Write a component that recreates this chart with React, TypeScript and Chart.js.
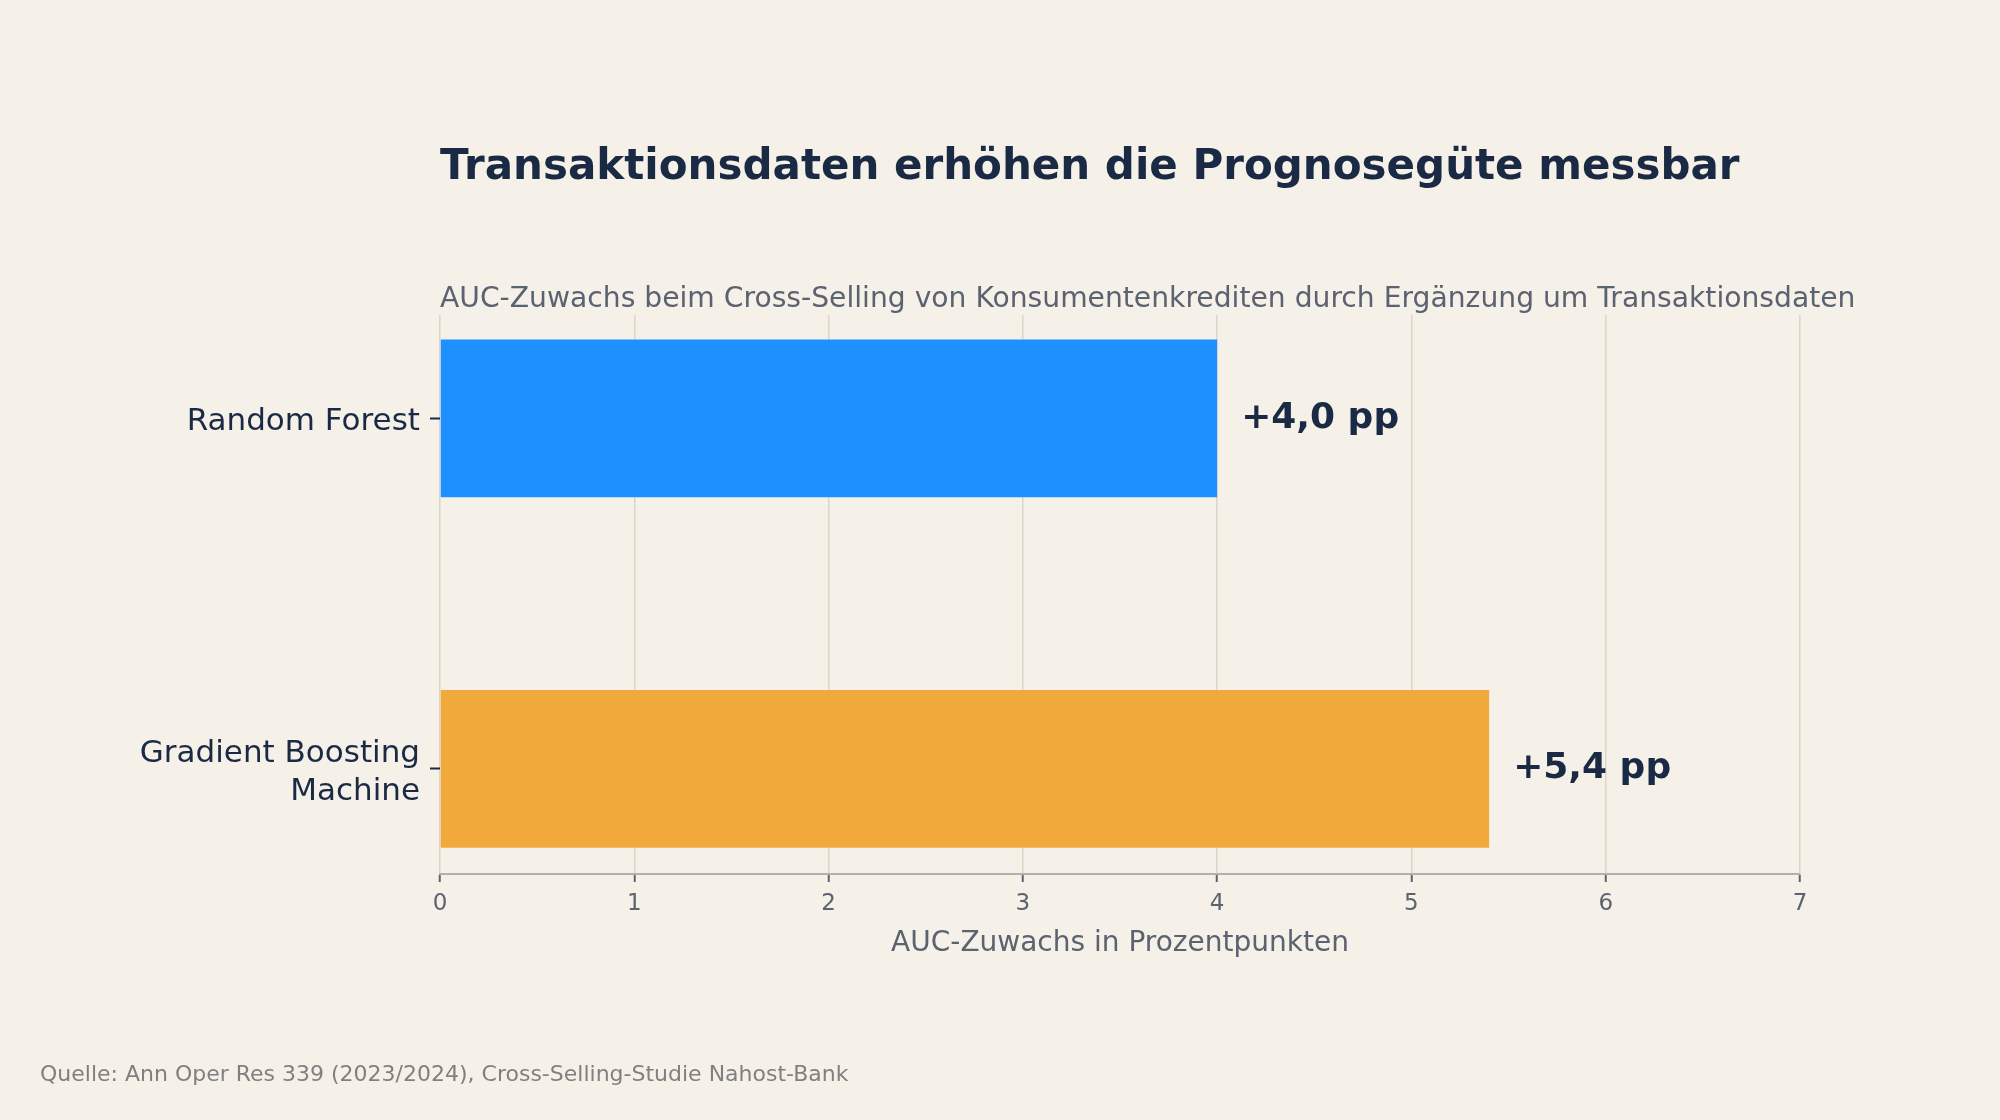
import { useEffect, useRef } from 'react';
import { Chart, registerables } from 'chart.js';

Chart.register(...registerables);

const models = ['Random Forest', ['Gradient Boosting', 'Machine']];
const modelIndex = [0, 1];
const aucGains = [4.0, 5.4];
const barColors = ['#1e90ff', '#f2a93b'];

const FONT = '"DejaVu Sans", "Noto Sans", sans-serif';
const NAVY = '#1b2a44';
const GREY = '#5b6270';

const SUBTITLE = 'AUC-Zuwachs beim Cross-Selling von Konsumentenkrediten durch Ergänzung um Transaktionsdaten';
const SOURCE = 'Quelle: Ann Oper Res 339 (2023/2024), Cross-Selling-Studie Nahost-Bank';

const fmt = (v: number) => '+' + v.toFixed(1).replace('.', ',') + ' pp';

const valueLabels = {
  id: 'valueLabels',
  afterDatasetsDraw(chart: any) {
    const { ctx } = chart;
    const meta = chart.getDatasetMeta(0);
    ctx.save();
    ctx.font = `bold 36px ${FONT}`;
    ctx.fillStyle = NAVY;
    ctx.textBaseline = 'middle';
    ctx.textAlign = 'left';
    meta.data.forEach((bar: any, i: number) => {
      ctx.fillText(fmt(aucGains[i]), bar.x + 24, bar.y);
    });
    ctx.restore();
  },
};

// subtitle is wider than the plot, so it is drawn here (no maxWidth squeeze)
const extraText = {
  id: 'extraText',
  afterDraw(chart: any) {
    const { ctx, chartArea } = chart;
    ctx.save();
    ctx.textBaseline = 'middle';
    ctx.textAlign = 'left';
    ctx.font = `28.2px ${FONT}`;
    ctx.fillStyle = GREY;
    ctx.fillText(SUBTITLE, chartArea.left, 300);
    ctx.font = `22px ${FONT}`;
    ctx.fillStyle = '#808080';
    ctx.fillText(SOURCE, 40, 1075);
    ctx.restore();
  },
};

export default function App() {
  const canvasRef = useRef<HTMLCanvasElement>(null);

  useEffect(() => {
    if (!canvasRef.current) return;

    const chart = new Chart(canvasRef.current, {
      type: 'bar',
      data: {
        datasets: [
          {
            data: modelIndex.map((y, i) => ({ x: aucGains[i], y })),
            backgroundColor: barColors,
            borderWidth: 0,
            barPercentage: 0.45,
            categoryPercentage: 1,
          },
        ],
      },
      options: {
        indexAxis: 'y',
        animation: false,
        responsive: false,
        devicePixelRatio: 1,
        layout: { padding: { left: 0, right: 200, top: 0, bottom: 146 } },
        plugins: {
          legend: { display: false },
          tooltip: { enabled: false },
          title: {
            display: true,
            text: 'Transaktionsdaten erhöhen die Prognosegüte messbar',
            align: 'start',
            fullSize: false,
            color: NAVY,
            font: { family: FONT, size: 42, weight: 'bold' },
            padding: { top: 143, bottom: 121.6 },
          },
        },
        scales: {
          x: {
            type: 'linear',
            min: 0,
            max: 7,
            ticks: {
              stepSize: 1,
              color: GREY,
              font: { family: FONT, size: 23 },
              padding: 8,
            },
            grid: {
              color: '#dcd6c9',
              lineWidth: 1.5,
              tickColor: GREY,
              tickLength: 8,
              tickWidth: 2,
            },
            border: { color: '#b5b1a8', width: 2 },
            title: {
              display: true,
              text: 'AUC-Zuwachs in Prozentpunkten',
              color: GREY,
              font: { family: FONT, size: 28 },
              padding: { top: 0, bottom: 13 },
            },
            afterFit(scale: any) {
              scale.height = 100;
            },
          },
          y: {
            type: 'linear',
            reverse: true,
            offset: false,
            min: -0.295,
            max: 1.3,
            afterBuildTicks(scale: any) {
              scale.ticks = modelIndex.map((v) => ({ value: v }));
            },
            ticks: {
              color: NAVY,
              font: { family: FONT, size: 31 },
              padding: 10,
              labelOffset: 4,
              callback: (v: any) => models[v as number],
            },
            grid: {
              offset: false,
              drawOnChartArea: false,
              tickColor: NAVY,
              tickLength: 10,
              tickWidth: 2,
            },
            border: { display: false },
            afterFit(scale: any) {
              scale.width = 440;
            },
          },
        },
      },
      plugins: [valueLabels, extraText],
    });

    return () => chart.destroy();
  }, []);

  return (
    <div
      style={{
        position: 'fixed',
        left: 0,
        top: 0,
        width: 2000,
        height: 1120,
        background: '#f5f1e9',
      }}
    >
      <canvas ref={canvasRef} width={2000} height={1120}></canvas>
    </div>
  );
}
